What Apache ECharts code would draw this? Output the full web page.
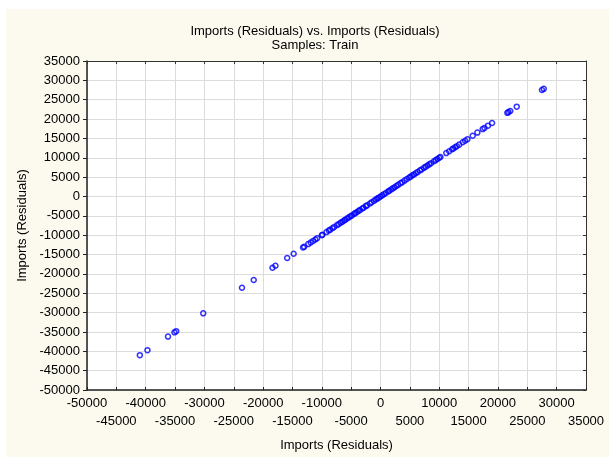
<!DOCTYPE html>
<html>
<head>
<meta charset="utf-8">
<script src="https://cdn.jsdelivr.net/npm/echarts@6/dist/echarts.min.js"></script>
<style>
    html, body { margin: 0; padding: 0; background: #ffffff; }
    .Paper {
        position: absolute;
        left: 6px;
        top: 9px;
        width: 603px;
        height: 448px;
        background: #fcf9ef;
    }
    #chart {
        position: absolute;
        left: 0;
        top: 0;
        width: 609px;
        height: 457px;
    }
</style>
</head>
<body>
<div class="Paper"></div>
<div id="chart"></div>
<script>
// residuals plotted against themselves, so x and y are the same value
const residuals = [
    -41000, -39700, -36200, -35100, -34800, -30200, -23600, -21600,
    -18400, -17900, -15900, -14800, -13200, -13000, -12300, -11900,
    -11500, -11100, -10800, -10000, -9900, -9200, -8800, -8600,
    -8200, -7900, -7400, -7100, -6800, -6500, -6200, -6000,
    -5700, -5400, -5100, -4900, -4500, -4300, -4000, -3700,
    -3500, -3100, -2900, -2500, -2300, -1800, -1500, -1100,
    -800, -550, -300, 20, 300, 600, 900, 1300,
    1500, 1800, 2100, 2400, 2700, 3000, 3400, 3700,
    4100, 4500, 4900, 5100, 5400, 5700, 6000, 6300,
    6700, 7000, 7400, 7700, 8000, 8300, 8600, 9100,
    9400, 9700, 10000, 10200, 11200, 11700, 12200, 12400,
    12700, 13000, 13400, 14000, 14400, 14800, 15700, 16500,
    17400, 17700, 18300, 19000, 21600, 21800, 22100, 23200,
    27500, 27800
];

const axisMin = -50000;
const axisMax = 35000;
const axisStep = 5000;

const titleText = 'Imports (Residuals) vs. Imports (Residuals)';
const subText = 'Samples: Train';
const axisName = 'Imports (Residuals)';

const font = 'Liberation Sans, Arial, sans-serif';
const fontSize = 13;

const chart = echarts.init(document.getElementById('chart'));

const labelStyle = {
    fontFamily: font,
    fontSize: fontSize,
    color: '#000'
};

const frameAxis = {
    min: axisMin,
    max: axisMax,
    interval: axisStep,
    axisLine: { show: true, onZero: false, lineStyle: { color: '#333', width: 1 } },
    axisTick: { show: true, inside: true, length: 3, lineStyle: { color: '#333' } },
    axisLabel: { show: false },
    splitLine: { show: false }
};

const option = {
    animation: false,
    title: {
        text: titleText,
        subtext: subText,
        left: 310,
        textAlign: 'center',
        top: 20,
        itemGap: 1,
        textStyle: Object.assign({ fontWeight: 'normal' }, labelStyle),
        subtextStyle: labelStyle
    },
    grid: {
        left: 87,
        right: 23,
        top: 61,
        bottom: 65,
        show: true,
        backgroundColor: '#ffffff',
        borderWidth: 0
    },
    xAxis: [{
        type: 'value',
        position: 'bottom',
        min: axisMin,
        max: axisMax,
        interval: axisStep,
        name: axisName,
        nameLocation: 'middle',
        nameGap: 49,
        nameTextStyle: labelStyle,
        axisLine: { show: true, onZero: false, lineStyle: { color: '#222', width: 1.5 } },
        axisTick: { show: true, inside: true, length: 3, lineStyle: { color: '#222' } },
        // first row: -50000, -40000, ...
        axisLabel: Object.assign({
            margin: 7,
            formatter: (v, i) => (i % 2 ? '' : '' + v)
        }, labelStyle),
        splitLine: { show: true, lineStyle: { color: '#dcdcdc', width: 1 } }
    },
    Object.assign({ type: 'value', position: 'top' }, frameAxis),
    {
        type: 'value',
        position: 'bottom',
        min: axisMin,
        max: axisMax,
        interval: axisStep,
        axisLine: { show: false, onZero: false },
        axisTick: { show: false },
        splitLine: { show: false },
        // second row: -45000, -35000, ...
        axisLabel: Object.assign({
            margin: 25,
            formatter: (v, i) => (i % 2 ? '' + v : '')
        }, labelStyle)
    }],
    yAxis: [{
        type: 'value',
        min: axisMin,
        max: axisMax,
        interval: axisStep,
        name: axisName,
        nameLocation: 'middle',
        nameGap: 57,
        nameTextStyle: labelStyle,
        axisLine: { show: true, onZero: false, lineStyle: { color: '#222', width: 1.5 } },
        axisTick: { show: true, inside: false, length: 4, lineStyle: { color: '#222' } },
        axisLabel: Object.assign({
            margin: 7,
            formatter: v => '' + v
        }, labelStyle),
        splitLine: { show: true, lineStyle: { color: '#dcdcdc', width: 1 } }
    }, Object.assign({ type: 'value', position: 'right' }, frameAxis)],
    series: [{
        type: 'scatter',
        xAxisIndex: 0,
        yAxisIndex: 0,
        symbol: 'circle',
        symbolSize: 5,
        itemStyle: {
            color: 'rgba(0,0,0,0)',
            borderColor: '#0000ff',
            borderWidth: 1.5
        },
        data: residuals.map(v => [v, v])
    }]
};

chart.setOption(option);
</script>
</body>
</html>
